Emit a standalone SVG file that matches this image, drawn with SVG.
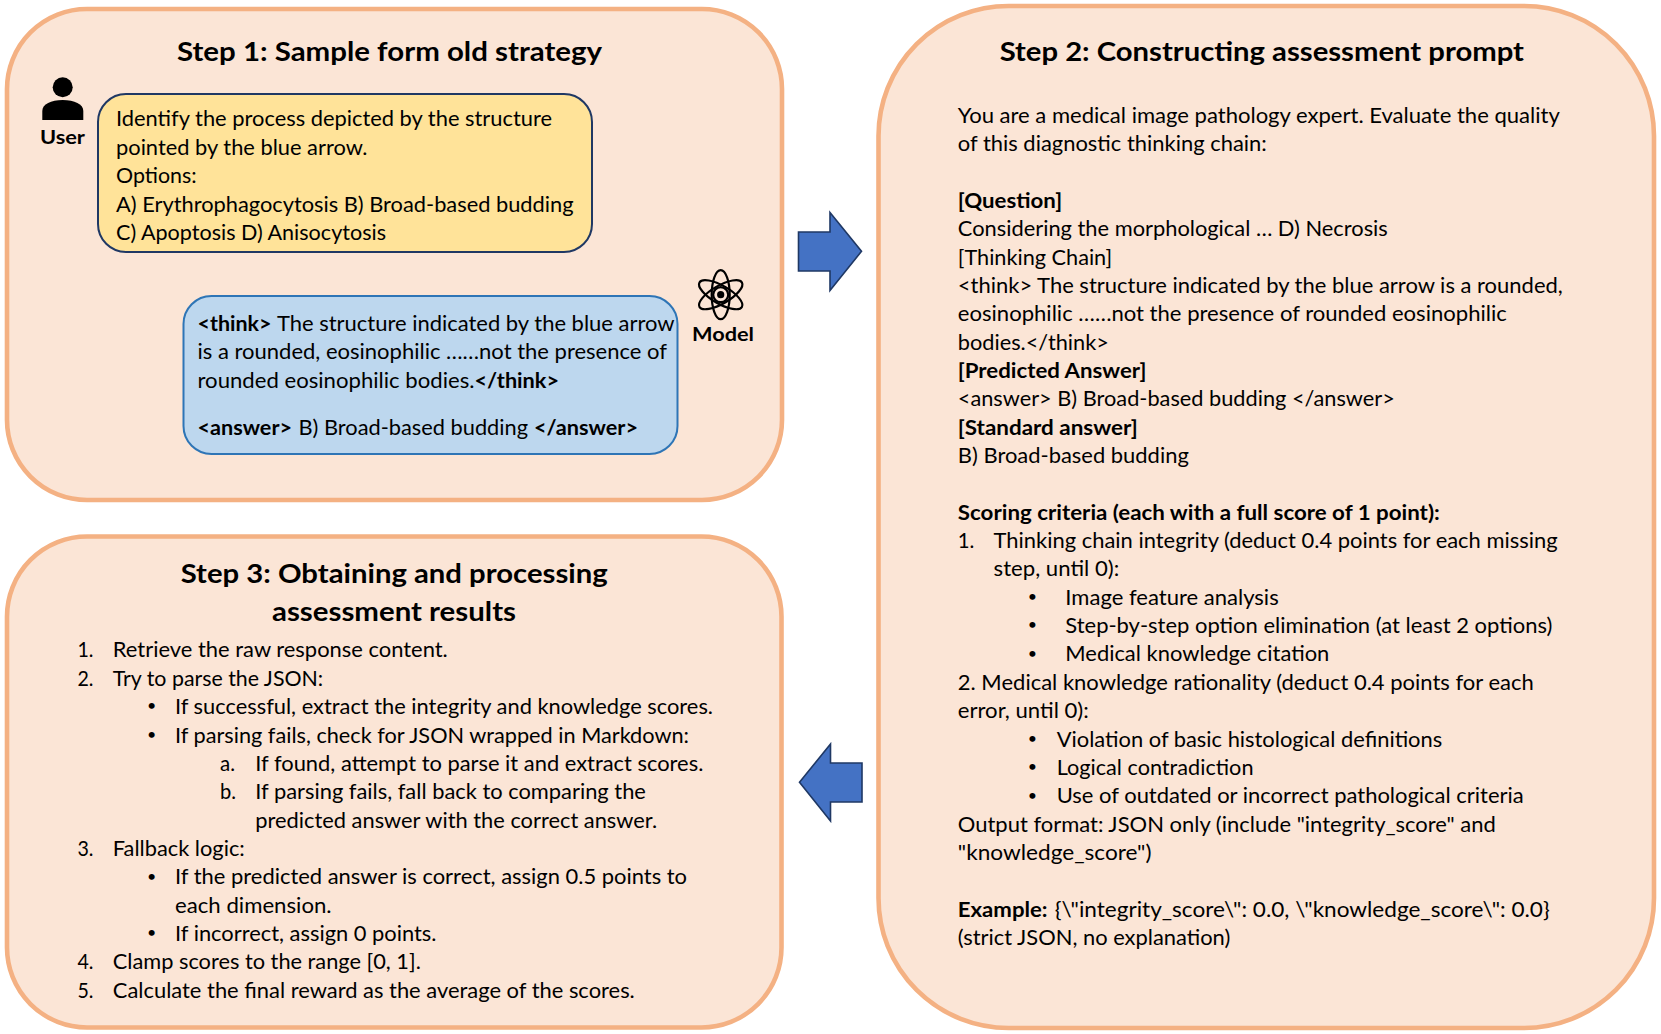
<svg xmlns="http://www.w3.org/2000/svg" width="1661" height="1034" viewBox="0 0 1661 1034">
<style>
text{font-family:Lato,"Liberation Sans",sans-serif;font-size:21px;fill:#000}
.b{font-weight:700}
.h{font-weight:700;font-size:27.5px}
.l{font-weight:700;font-size:19.5px}
.d{font-size:16px;text-anchor:middle}
.panel{fill:#FBE5D6;stroke:#F4B183;stroke-width:4.6}
.arrow{fill:#4472C4;stroke:#1F3864;stroke-width:1.6}
.atom{fill:none;stroke:#000;stroke-width:2.2}
</style>
<rect width="1661" height="1034" fill="#fff"/>
<g id="step1">
<rect class="panel" x="7" y="9" width="775" height="491" rx="80"/>
<text class="h" x="177" y="61" textLength="425" lengthAdjust="spacingAndGlyphs">Step 1: Sample form old strategy</text>
<g id="user">
<circle cx="62.7" cy="87.3" r="10"/>
<path d="M42.3 120V111C42.3 104 51 100 62.7 100S83.3 104 83.3 111V120Z"/>
<text class="l" x="40" y="144" textLength="45" lengthAdjust="spacingAndGlyphs">User</text>
</g>
<g id="question">
<rect x="98" y="94" width="494" height="158" rx="28" fill="#FFE399" stroke="#1F3864" stroke-width="2"/>
<text x="116" y="126" textLength="436" lengthAdjust="spacingAndGlyphs">Identify the process depicted by the structure</text>
<text x="116" y="154.5" textLength="251.5" lengthAdjust="spacingAndGlyphs">pointed by the blue arrow.</text>
<text x="116" y="183" textLength="80.6" lengthAdjust="spacingAndGlyphs">Options:</text>
<text x="116" y="211.5" textLength="457.5" lengthAdjust="spacingAndGlyphs">A) Erythrophagocytosis B) Broad-based budding</text>
<text x="116" y="239.7" textLength="270" lengthAdjust="spacingAndGlyphs">C) Apoptosis D) Anisocytosis</text>
</g>
<g id="model">
<g class="atom">
<ellipse cx="720.7" cy="294.7" rx="9" ry="24.5"/>
<ellipse cx="720.7" cy="294.7" rx="9" ry="24.5" transform="rotate(60 720.7 294.7)"/>
<ellipse cx="720.7" cy="294.7" rx="9" ry="24.5" transform="rotate(-60 720.7 294.7)"/>
<circle cx="720.7" cy="294.7" r="7.5"/>
</g>
<circle cx="720.7" cy="294.7" r="3.6"/>
<text class="l" x="692" y="341" textLength="62" lengthAdjust="spacingAndGlyphs">Model</text>
</g>
<g id="answer">
<rect x="183.5" y="296" width="494" height="158" rx="28" fill="#BDD7EE" stroke="#2E75B6" stroke-width="2"/>
<text class="b" x="197.5" y="331" textLength="74" lengthAdjust="spacingAndGlyphs">&lt;think&gt;</text>
<text x="277" y="331" textLength="397.5" lengthAdjust="spacingAndGlyphs">The structure indicated by the blue arrow</text>
<text x="197.5" y="359.4" textLength="469.5" lengthAdjust="spacingAndGlyphs">is a rounded, eosinophilic ……not the presence of</text>
<text x="197.5" y="387.7" textLength="277" lengthAdjust="spacingAndGlyphs">rounded eosinophilic bodies.</text>
<text class="b" x="474.5" y="387.7" textLength="84.5" lengthAdjust="spacingAndGlyphs">&lt;/think&gt;</text>
<text class="b" x="197.5" y="435" textLength="94.5" lengthAdjust="spacingAndGlyphs">&lt;answer&gt;</text>
<text x="298.5" y="435" textLength="229.5" lengthAdjust="spacingAndGlyphs">B) Broad-based budding</text>
<text class="b" x="534" y="435" textLength="104" lengthAdjust="spacingAndGlyphs">&lt;/answer&gt;</text>
</g>
</g>
<g id="step2">
<rect class="panel" x="878.5" y="6" width="775.5" height="1022" rx="130"/>
<text class="h" x="999.7" y="61" textLength="524.3" lengthAdjust="spacingAndGlyphs">Step 2: Constructing assessment prompt</text>
<text x="957.8" y="122.7" textLength="602" lengthAdjust="spacingAndGlyphs">You are a medical image pathology expert. Evaluate the quality</text>
<text x="957.8" y="151" textLength="309" lengthAdjust="spacingAndGlyphs">of this diagnostic thinking chain:</text>
<text class="b" x="957.8" y="207.8" textLength="104.4" lengthAdjust="spacingAndGlyphs">[Question]</text>
<text x="957.8" y="236.1" textLength="430" lengthAdjust="spacingAndGlyphs">Considering the morphological … D) Necrosis</text>
<text x="957.8" y="264.5" textLength="154.4" lengthAdjust="spacingAndGlyphs">[Thinking Chain]</text>
<text x="957.8" y="292.8" textLength="605" lengthAdjust="spacingAndGlyphs">&lt;think&gt; The structure indicated by the blue arrow is a rounded,</text>
<text x="957.8" y="321.2" textLength="549" lengthAdjust="spacingAndGlyphs">eosinophilic ……not the presence of rounded eosinophilic</text>
<text x="957.8" y="349.5" textLength="151" lengthAdjust="spacingAndGlyphs">bodies.&lt;/think&gt;</text>
<text class="b" x="957.8" y="377.9" textLength="188.7" lengthAdjust="spacingAndGlyphs">[Predicted Answer]</text>
<text x="957.8" y="406.3" textLength="437" lengthAdjust="spacingAndGlyphs">&lt;answer&gt; B) Broad-based budding &lt;/answer&gt;</text>
<text class="b" x="957.8" y="434.6" textLength="180" lengthAdjust="spacingAndGlyphs">[Standard answer]</text>
<text x="957.8" y="463" textLength="231" lengthAdjust="spacingAndGlyphs">B) Broad-based budding</text>
<text class="b" x="957.8" y="519.7" textLength="482" lengthAdjust="spacingAndGlyphs">Scoring criteria (each with a full score of 1 point):</text>
<text x="957.8" y="548" textLength="16.6" lengthAdjust="spacingAndGlyphs">1.</text>
<text x="993.6" y="548" textLength="564" lengthAdjust="spacingAndGlyphs">Thinking chain integrity (deduct 0.4 points for each missing</text>
<text x="993.6" y="576.4" textLength="125.6" lengthAdjust="spacingAndGlyphs">step, until 0):</text>
<text class="d" x="1032.5" y="602">•</text>
<text x="1065.3" y="604.7" textLength="213.4" lengthAdjust="spacingAndGlyphs">Image feature analysis</text>
<text class="d" x="1032.5" y="630.4">•</text>
<text x="1065.3" y="633.1" textLength="487" lengthAdjust="spacingAndGlyphs">Step-by-step option elimination (at least 2 options)</text>
<text class="d" x="1032.5" y="658.7">•</text>
<text x="1065.3" y="661.4" textLength="264" lengthAdjust="spacingAndGlyphs">Medical knowledge citation</text>
<text x="957.8" y="689.8" textLength="576" lengthAdjust="spacingAndGlyphs">2. Medical knowledge rationality (deduct 0.4 points for each</text>
<text x="957.8" y="718.2" textLength="131" lengthAdjust="spacingAndGlyphs">error, until 0):</text>
<text class="d" x="1032.5" y="743.8">•</text>
<text x="1056.7" y="746.5" textLength="385.5" lengthAdjust="spacingAndGlyphs">Violation of basic histological definitions</text>
<text class="d" x="1032.5" y="772.2">•</text>
<text x="1056.7" y="774.9" textLength="196.8" lengthAdjust="spacingAndGlyphs">Logical contradiction</text>
<text class="d" x="1032.5" y="800.5">•</text>
<text x="1056.7" y="803.2" textLength="467" lengthAdjust="spacingAndGlyphs">Use of outdated or incorrect pathological criteria</text>
<text x="957.8" y="831.6" textLength="538" lengthAdjust="spacingAndGlyphs">Output format: JSON only (include "integrity_score" and</text>
<text x="957.8" y="859.9" textLength="193.7" lengthAdjust="spacingAndGlyphs">"knowledge_score")</text>
<text class="b" x="957.8" y="916.6" textLength="89.8" lengthAdjust="spacingAndGlyphs">Example:</text>
<text x="1054.7" y="916.6" textLength="495" lengthAdjust="spacingAndGlyphs">{\"integrity_score\": 0.0, \"knowledge_score\": 0.0}</text>
<text x="957.8" y="945" textLength="272.5" lengthAdjust="spacingAndGlyphs">(strict JSON, no explanation)</text>
</g>
<g id="step3">
<rect class="panel" x="7" y="536.5" width="774.5" height="491" rx="80"/>
<text class="h" x="180.7" y="583.3" textLength="427" lengthAdjust="spacingAndGlyphs">Step 3: Obtaining and processing</text>
<text class="h" x="272" y="620.7" textLength="244" lengthAdjust="spacingAndGlyphs">assessment results</text>
<text x="77.4" y="657.4" textLength="16" lengthAdjust="spacingAndGlyphs">1.</text>
<text x="112.8" y="657.4" textLength="335" lengthAdjust="spacingAndGlyphs">Retrieve the raw response content.</text>
<text x="77.4" y="685.8" textLength="16" lengthAdjust="spacingAndGlyphs">2.</text>
<text x="112.8" y="685.8" textLength="210.4" lengthAdjust="spacingAndGlyphs">Try to parse the JSON:</text>
<text class="d" x="151.7" y="711.4">•</text>
<text x="175" y="714.1" textLength="538" lengthAdjust="spacingAndGlyphs">If successful, extract the integrity and knowledge scores.</text>
<text class="d" x="151.7" y="739.8">•</text>
<text x="175" y="742.5" textLength="514" lengthAdjust="spacingAndGlyphs">If parsing fails, check for JSON wrapped in Markdown:</text>
<text x="220" y="770.8" textLength="15" lengthAdjust="spacingAndGlyphs">a.</text>
<text x="255.3" y="770.8" textLength="448" lengthAdjust="spacingAndGlyphs">If found, attempt to parse it and extract scores.</text>
<text x="220" y="799.2" textLength="16" lengthAdjust="spacingAndGlyphs">b.</text>
<text x="255.3" y="799.2" textLength="390.6" lengthAdjust="spacingAndGlyphs">If parsing fails, fall back to comparing the</text>
<text x="255.3" y="827.6" textLength="401.8" lengthAdjust="spacingAndGlyphs">predicted answer with the correct answer.</text>
<text x="77.4" y="855.9" textLength="16" lengthAdjust="spacingAndGlyphs">3.</text>
<text x="112.8" y="855.9" textLength="132" lengthAdjust="spacingAndGlyphs">Fallback logic:</text>
<text class="d" x="151.7" y="881.6">•</text>
<text x="175" y="884.3" textLength="512" lengthAdjust="spacingAndGlyphs">If the predicted answer is correct, assign 0.5 points to</text>
<text x="175" y="912.6" textLength="156.6" lengthAdjust="spacingAndGlyphs">each dimension.</text>
<text class="d" x="151.7" y="938.3">•</text>
<text x="175" y="941" textLength="261.5" lengthAdjust="spacingAndGlyphs">If incorrect, assign 0 points.</text>
<text x="77.4" y="969.3" textLength="16" lengthAdjust="spacingAndGlyphs">4.</text>
<text x="112.8" y="969.3" textLength="308" lengthAdjust="spacingAndGlyphs">Clamp scores to the range [0, 1].</text>
<text x="77.4" y="997.7" textLength="16" lengthAdjust="spacingAndGlyphs">5.</text>
<text x="112.8" y="997.7" textLength="522" lengthAdjust="spacingAndGlyphs">Calculate the final reward as the average of the scores.</text>
</g>
<g id="connectors">
<polygon class="arrow" points="798.5,232 830,232 830,212.5 861.5,251.3 830,290.5 830,271 798.5,271"/>
<polygon class="arrow" points="862,763 830.5,763 830.5,744 799.5,782.3 830.5,821 830.5,802 862,802"/>
</g>
</svg>
